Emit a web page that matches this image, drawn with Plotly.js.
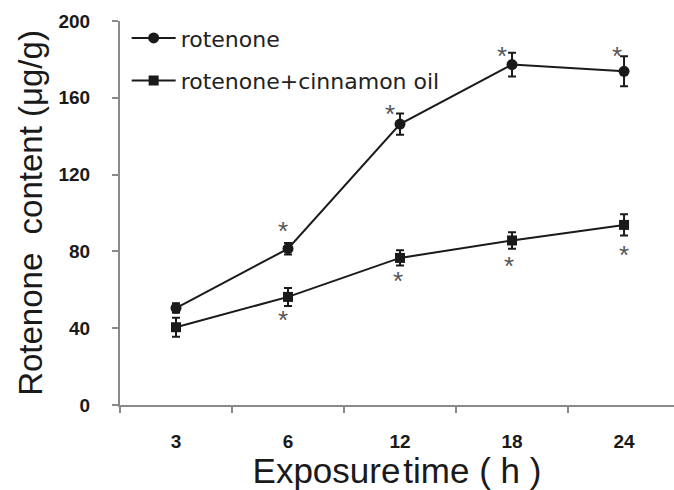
<!DOCTYPE html>
<html>
<head>
<meta charset="utf-8">
<script src="https://cdn.plot.ly/plotly-3.0.1.min.js"></script>
<style>html,body{margin:0;padding:0;background:#fff;}#chart{width:674px;height:490px;}</style>
</head>
<body>
<div id="chart"></div>
<script>
var categories = ['3', '6', '12', '18', '24'];
var rotenone = [50.5, 81.4, 146.3, 177.3, 173.8];
var rotenoneErr = [2.5, 3.0, 5.5, 6.2, 7.8];
var cinnamon = [40.5, 56.3, 76.6, 85.7, 93.8];
var cinnamonErr = [5.0, 4.7, 4.0, 4.3, 5.5];
var rotenoneSig = ['', '*', '*', '*', '*'];
var cinnamonSig = ['', '*', '*', '*', '*'];
var yTicks = [0, 40, 80, 120, 160, 200];

var traceRot = {
  x: categories, y: rotenone, name: 'rotenone', type: 'scatter', mode: 'lines+markers',
  legendgroup: 'a',
  line: {color: '#1a1a1a', width: 2},
  marker: {symbol: 'circle', size: 11, color: '#1a1a1a'},
  error_y: {type: 'data', array: rotenoneErr, visible: true, color: '#1a1a1a', thickness: 2, width: 4}
};
var traceCin = {
  x: categories, y: cinnamon, name: 'rotenone+cinnamon oil', type: 'scatter', mode: 'lines+markers',
  legendgroup: 'b',
  line: {color: '#1a1a1a', width: 2},
  marker: {symbol: 'square', size: 10, color: '#1a1a1a'},
  error_y: {type: 'data', array: cinnamonErr, visible: true, color: '#1a1a1a', thickness: 2, width: 4}
};

var rotShift = [[0, 0], [-5, 12], [-10, 0], [-10, -3], [-7, 0]];
var cinShift = [[0, 0], [-5, -14], [-2, -15], [-3, -17], [0, -20]];
var annotations = [];
categories.forEach(function (c, i) {
  if (rotenoneSig[i]) annotations.push({
    x: i, y: rotenone[i] + rotenoneErr[i], xref: 'x', yref: 'y', text: rotenoneSig[i],
    showarrow: false, xshift: rotShift[i][0], yshift: rotShift[i][1], yanchor: 'middle',
    font: {family: 'Liberation Sans, Arial, sans-serif', size: 26, color: '#555'}
  });
  if (cinnamonSig[i]) annotations.push({
    x: i, y: cinnamon[i] - cinnamonErr[i], xref: 'x', yref: 'y', text: cinnamonSig[i],
    showarrow: false, xshift: cinShift[i][0], yshift: cinShift[i][1], yanchor: 'middle',
    font: {family: 'Liberation Sans, Arial, sans-serif', size: 26, color: '#555'}
  });
});

var layout = {
  width: 674, height: 490,
  margin: {l: 120, r: 0, t: 21, b: 85, pad: 0},
  paper_bgcolor: '#fff', plot_bgcolor: '#fff',
  showlegend: true,
  legend: {
    x: 0.012, y: 1.01, xanchor: 'left', yanchor: 'top',
    traceorder: 'grouped', tracegroupgap: 11, itemwidth: 44,
    bgcolor: 'rgba(0,0,0,0)',
    font: {family: 'DejaVu Sans, sans-serif', size: 22, color: '#222'}
  },
  xaxis: {
    type: 'category', range: [-0.5, 4.446],
    showline: true, linecolor: '#8a8a8a', linewidth: 2,
    ticks: 'outside', tickson: 'boundaries', ticklen: 6, tickwidth: 2, tickcolor: '#8a8a8a',
    showgrid: false, zeroline: false,
    ticklabelstandoff: 18,
    tickfont: {family: 'Liberation Sans, Arial, sans-serif', size: 19, color: '#1a1a1a', weight: 'bold'},
    title: {text: 'Exposure\u200Atime ( h )', standoff: 17,
      font: {family: 'Liberation Sans, Arial, sans-serif', size: 35, color: '#1a1a1a'}}
  },
  yaxis: {
    range: [0, 200], tickvals: yTicks, ticktext: yTicks.map(String),
    showline: true, linecolor: '#8a8a8a', linewidth: 2,
    ticks: 'outside', ticklen: 6, tickwidth: 2, tickcolor: '#8a8a8a',
    showgrid: false, zeroline: false,
    ticklabelstandoff: 18,
    tickfont: {family: 'Liberation Sans, Arial, sans-serif', size: 19, color: '#1a1a1a', weight: 'bold'},
    title: {text: 'Rotenone  content (\u03BCg/g)', standoff: 6,
      font: {family: 'Liberation Sans, Arial, sans-serif', size: 33, color: '#1a1a1a'}}
  },
  annotations: annotations
};

Plotly.newPlot('chart', [traceRot, traceCin], layout, {staticPlot: true, displayModeBar: false});
</script>
</body>
</html>
